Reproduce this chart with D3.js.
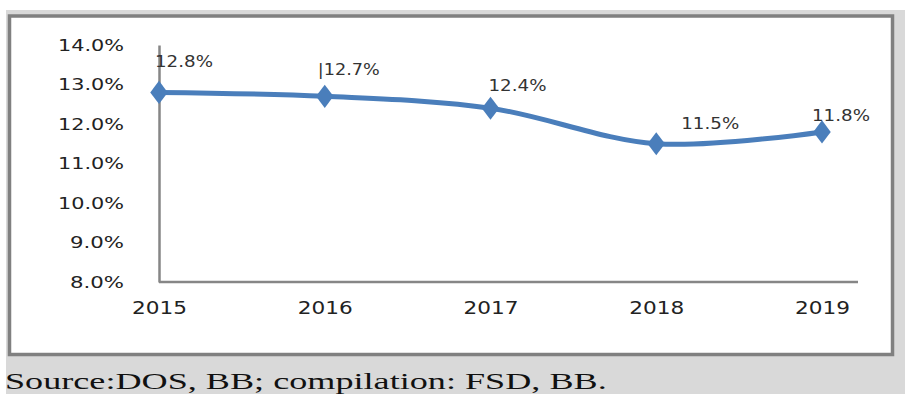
<!DOCTYPE html>
<html><head><meta charset="utf-8">
<script src="https://cdn.jsdelivr.net/npm/d3@7"></script>
<style>html,body{margin:0;padding:0;background:#fff;}svg{display:block;}
.sans{font-family:"DejaVu Sans",Verdana,sans-serif;}
</style>
</head><body>
<svg id="c" width="905" height="394"></svg>
<script>
const years = ["2015","2016","2017","2018","2019"];
const values = [12.8, 12.7, 12.4, 11.5, 11.8];
const dataLabels = ["12.8%", "|12.7%", "12.4%", "11.5%", "11.8%"];
const yTicks = [8, 9, 10, 11, 12, 13, 14];
const sourceText = "Source:DOS, BB; compilation: FSD, BB.";
// label placement offsets (layout, px): [dx of left edge, dy of baseline]
const labelOffsets = [[-4,-25],[-7,-21],[-2,-17],[25,-15],[-10,-11]];

const svg = d3.select("#c");
// backgrounds
svg.append("rect").attr("x",6).attr("y",10).attr("width",899).attr("height",384).attr("fill","#d9d9d9");
svg.append("rect").attr("x",9.5).attr("y",16).attr("width",883).attr("height",338.5)
  .attr("fill","#fff").attr("stroke","#808080").attr("stroke-width",3.5);

const x = d3.scalePoint().domain(years).range([159, 822]);
const y = d3.scaleLinear().domain([8, 14]).range([282, 45]);

function stretchText(sel, w){
  sel.attr("textLength", w).attr("lengthAdjust","spacingAndGlyphs");
}

// y axis
const yAxis = d3.axisLeft(y).tickValues(yTicks).tickSize(0).tickPadding(35)
  .tickFormat(d => d3.format(".1f")(d) + "%");
const ga = svg.append("g").attr("transform","translate(159,0)").call(yAxis);
ga.attr("font-family",null);
ga.select(".domain").attr("stroke","#868686").attr("stroke-width",2.5);
ga.selectAll("text").attr("class","sans").attr("font-size",15)
  .attr("fill","#222").attr("dy","0.36em")
  .each(function(d){ stretchText(d3.select(this), d >= 10 ? 66 : 54); });

// x axis
const xAxis = d3.axisBottom(x).tickSize(0).tickPadding(27);
const gx = svg.append("g").attr("transform","translate(0,282)").call(xAxis);
gx.attr("font-family",null);
gx.select(".domain").attr("d","M159,0H858").attr("stroke","#868686").attr("stroke-width",2.5);
gx.selectAll("text").attr("class","sans").attr("font-size",18)
  .attr("fill","#222").attr("dy","0.3em")
  .each(function(){ stretchText(d3.select(this), 55); });

// line
const pts = years.map((yr,i)=>({yr, v: values[i], lab: dataLabels[i], off: labelOffsets[i]}));
const line = d3.line().x(d=>x(d.yr)).y(d=>y(d.v)).curve(d3.curveCatmullRom.alpha(0.5));
svg.append("path").datum(pts).attr("d", line).attr("fill","none")
  .attr("stroke","#4a7ebb").attr("stroke-width",5).attr("stroke-linejoin","round");

// markers
const sym = d3.symbol().type(d3.symbolDiamond).size(170);
svg.selectAll(".m").data(pts).join("path").attr("class","m")
  .attr("d", sym).attr("fill","#4a7ebb")
  .attr("transform", d=>`translate(${x(d.yr)},${y(d.v)}) scale(1.25,0.95)`);

// data labels
svg.selectAll(".dl").data(pts).join("text").attr("class","dl sans")
  .attr("x", d=>x(d.yr)+d.off[0]).attr("y", d=>y(d.v)+d.off[1])
  .attr("font-size",15).attr("fill","#333")
  .text(d=>d.lab)
  .each(function(d){ stretchText(d3.select(this), d.lab.startsWith("|") ? 62 : 58); });

// source (serif, horizontally stretched like the reference)
const src = svg.append("text").attr("x",0).attr("y",0)
  .style("font-family","'Liberation Serif','DejaVu Serif',serif")
  .attr("font-size",23).attr("fill","#111")
  .text(sourceText);
const w = src.node().getComputedTextLength();
src.attr("transform",`translate(5,389) scale(${602 / w},1)`);
</script>
</body></html>
